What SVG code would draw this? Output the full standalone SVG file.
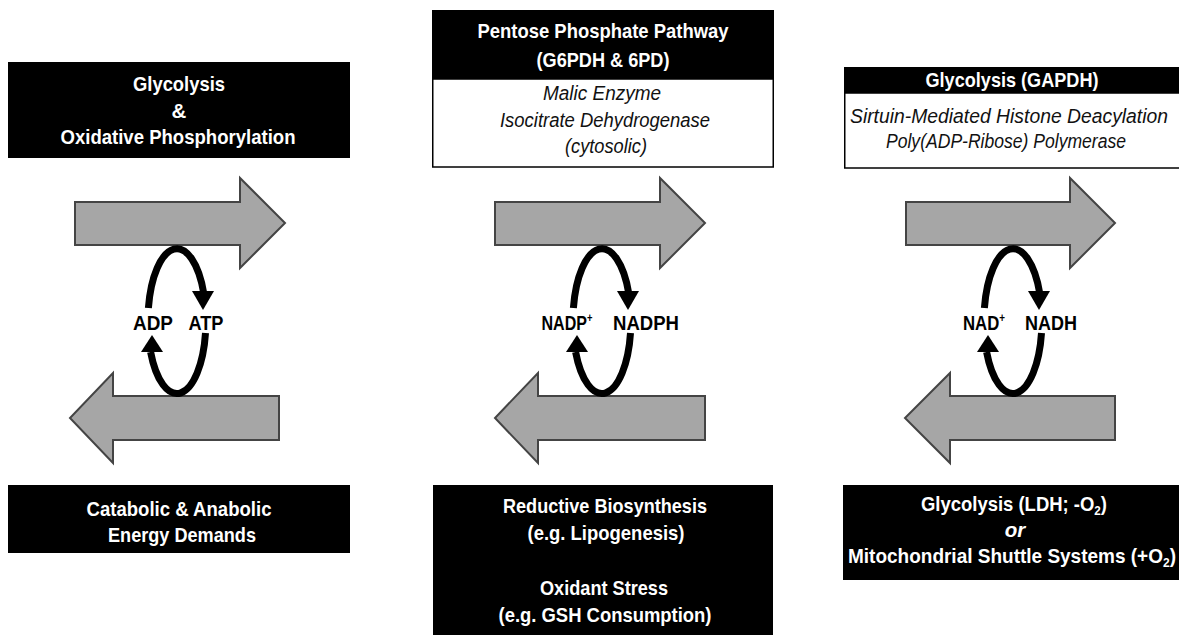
<svg xmlns="http://www.w3.org/2000/svg" width="1179" height="635" viewBox="0 0 1179 635">
<style>
.blk{fill:#000}
.wht{fill:#fff;stroke:#000;stroke-width:1.5}
.t{font-family:"Liberation Sans",Arial,sans-serif;font-size:20.5px;text-anchor:middle}
.tw{fill:#fff;font-weight:bold}
.ti{fill:#111;font-style:italic}
.lb{fill:#000;font-weight:bold}
.arr{fill:#a6a6a6;stroke:#444;stroke-width:2;stroke-linejoin:miter}
.loop{fill:none;stroke:#000;stroke-width:7}
.head{fill:#000}
</style>
<defs>
<g id="cyc">
<path class="loop" d="M-28.6,308 A29 72 0 0 1 26.7,293"/>
<polygon class="head" points="15,291 37,291 26,310"/>
<path class="loop" d="M28.5,333 A29 72 0 0 1 -26.4,352"/>
<polygon class="head" points="-36,352 -14,352 -25,335"/>
</g>
</defs>
<rect width="1179" height="635" fill="#fff"/>

<g id="connectors">
<path class="arr" d="M75,202 H240 V178 L285,223 L240,268 V245 H75 Z"/>
<path class="arr" d="M279,396 H113 V373 L70,418 L113,463 V440 H279 Z"/>
<path class="arr" d="M495,202 H660 V178 L705,223 L660,268 V245 H495 Z"/>
<path class="arr" d="M705,396 H538 V373 L495,418 L538,463 V440 H705 Z"/>
<path class="arr" d="M906,202 H1070 V178 L1115,223 L1070,268 V245 H906 Z"/>
<path class="arr" d="M1115,396 H950 V373 L905,418 L950,463 V440 H1115 Z"/>
<use href="#cyc" x="177" y="0"/>
<use href="#cyc" x="602" y="0"/>
<use href="#cyc" x="1013" y="0"/>
</g>

<g id="box-glyco-oxphos">
<rect class="blk" x="8" y="62" width="342" height="96"/>
<text class="t tw" x="179" y="91" textLength="92" lengthAdjust="spacingAndGlyphs">Glycolysis</text>
<text class="t tw" x="179" y="118">&amp;</text>
<text class="t tw" x="178" y="144" textLength="235" lengthAdjust="spacingAndGlyphs">Oxidative Phosphorylation</text>
</g>

<g id="box-ppp">
<rect class="blk" x="432" y="10" width="342" height="69"/>
<rect class="wht" x="432.75" y="79" width="340.5" height="88"/>
<text class="t tw" x="603" y="38" textLength="251" lengthAdjust="spacingAndGlyphs">Pentose Phosphate Pathway</text>
<text class="t tw" x="603" y="67" textLength="133" lengthAdjust="spacingAndGlyphs">(G6PDH &amp; 6PD)</text>
<text class="t ti" x="602" y="100" textLength="118" lengthAdjust="spacingAndGlyphs">Malic Enzyme</text>
<text class="t ti" x="605" y="127" textLength="210" lengthAdjust="spacingAndGlyphs">Isocitrate Dehydrogenase</text>
<text class="t ti" x="606" y="153" textLength="82" lengthAdjust="spacingAndGlyphs">(cytosolic)</text>
</g>

<g id="box-gapdh">
<rect class="blk" x="844" y="67" width="336" height="26"/>
<rect class="wht" x="844.75" y="93" width="340" height="75"/>
<text class="t tw" x="1012" y="87" textLength="173" lengthAdjust="spacingAndGlyphs">Glycolysis (GAPDH)</text>
<text class="t ti" x="1009" y="123" textLength="318" lengthAdjust="spacingAndGlyphs">Sirtuin-Mediated Histone Deacylation</text>
<text class="t ti" x="1006" y="148" textLength="240" lengthAdjust="spacingAndGlyphs">Poly(ADP-Ribose) Polymerase</text>
</g>

<g id="label-adp-atp">
<text class="t lb" x="153" y="330" textLength="40" lengthAdjust="spacingAndGlyphs">ADP</text>
<text class="t lb" x="206" y="330" textLength="35" lengthAdjust="spacingAndGlyphs">ATP</text>
</g>
<g id="label-nadp">
<text class="t lb" x="567" y="330" textLength="51" lengthAdjust="spacingAndGlyphs">NADP<tspan font-size="12" dy="-8">+</tspan></text>
<text class="t lb" x="646" y="330" textLength="66" lengthAdjust="spacingAndGlyphs">NADPH</text>
</g>
<g id="label-nad">
<text class="t lb" x="984" y="330" textLength="42" lengthAdjust="spacingAndGlyphs">NAD<tspan font-size="12" dy="-8">+</tspan></text>
<text class="t lb" x="1051" y="330" textLength="52" lengthAdjust="spacingAndGlyphs">NADH</text>
</g>

<g id="box-energy">
<rect class="blk" x="8" y="485" width="342" height="68"/>
<text class="t tw" x="179" y="516" textLength="185" lengthAdjust="spacingAndGlyphs">Catabolic &amp; Anabolic</text>
<text class="t tw" x="182" y="542" textLength="148" lengthAdjust="spacingAndGlyphs">Energy Demands</text>
</g>

<g id="box-reductive">
<rect class="blk" x="433" y="485" width="340" height="150"/>
<text class="t tw" x="605" y="513" textLength="204" lengthAdjust="spacingAndGlyphs">Reductive Biosynthesis</text>
<text class="t tw" x="606" y="540" textLength="157" lengthAdjust="spacingAndGlyphs">(e.g. Lipogenesis)</text>
<text class="t tw" x="604" y="595" textLength="128" lengthAdjust="spacingAndGlyphs">Oxidant Stress</text>
<text class="t tw" x="605" y="622" textLength="213" lengthAdjust="spacingAndGlyphs">(e.g. GSH Consumption)</text>
</g>

<g id="box-ldh">
<rect class="blk" x="843" y="485" width="336" height="95"/>
<text class="t tw" x="1014" y="511" textLength="186" lengthAdjust="spacingAndGlyphs">Glycolysis (LDH; -O<tspan font-size="13" dy="4">2</tspan><tspan dy="-4">)</tspan></text>
<text class="t tw" x="1015" y="537" font-style="italic">or</text>
<text class="t tw" x="1012" y="563" textLength="328" lengthAdjust="spacingAndGlyphs">Mitochondrial Shuttle Systems (+O<tspan font-size="13" dy="4">2</tspan><tspan dy="-4">)</tspan></text>
</g>
</svg>
